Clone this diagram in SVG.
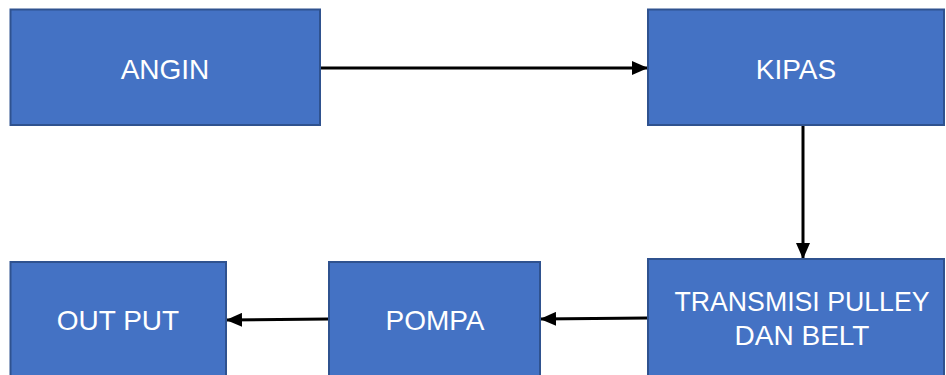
<svg xmlns="http://www.w3.org/2000/svg" width="946" height="375" viewBox="0 0 946 375">
<style>
.box{fill:#4472C4;stroke:#2F528F;stroke-width:2}
.lbl{fill:#fff;font-family:"Liberation Sans",Arial,sans-serif;font-size:28px;text-anchor:middle}
.con{stroke:#000;stroke-width:3;fill:none;marker-end:url(#ah)}
</style>
<defs>
<marker id="ah" markerUnits="userSpaceOnUse" markerWidth="16" markerHeight="14" refX="16" refY="7" orient="auto">
<path d="M0,0 L16,7 L0,14 Z" fill="#000"/>
</marker>
</defs>
<rect width="946" height="375" fill="#fff"/>
<g id="connectors">
<line class="con" x1="320" y1="68" x2="648" y2="68"/>
<line class="con" x1="803" y1="125" x2="803" y2="259"/>
<line class="con" x1="648" y1="318" x2="540" y2="319"/>
<line class="con" x1="329" y1="319" x2="226" y2="320"/>
</g>
<g id="angin"><rect class="box" x="10.5" y="9.5" width="309.5" height="115.5"/><text class="lbl" x="165" y="79">ANGIN</text></g>
<g id="kipas"><rect class="box" x="648" y="9.5" width="296" height="115.5"/><text class="lbl" x="796" y="79">KIPAS</text></g>
<g id="transmisi"><rect class="box" x="648" y="259" width="296" height="118"/><text class="lbl" x="802" y="311" textLength="255" lengthAdjust="spacingAndGlyphs">TRANSMISI PULLEY</text><text class="lbl" x="802" y="345">DAN BELT</text></g>
<g id="pompa"><rect class="box" x="329" y="262" width="211" height="115"/><text class="lbl" x="435" y="330">POMPA</text></g>
<g id="output"><rect class="box" x="10.5" y="262" width="215.5" height="115"/><text class="lbl" x="118" y="330">OUT PUT</text></g>
</svg>
